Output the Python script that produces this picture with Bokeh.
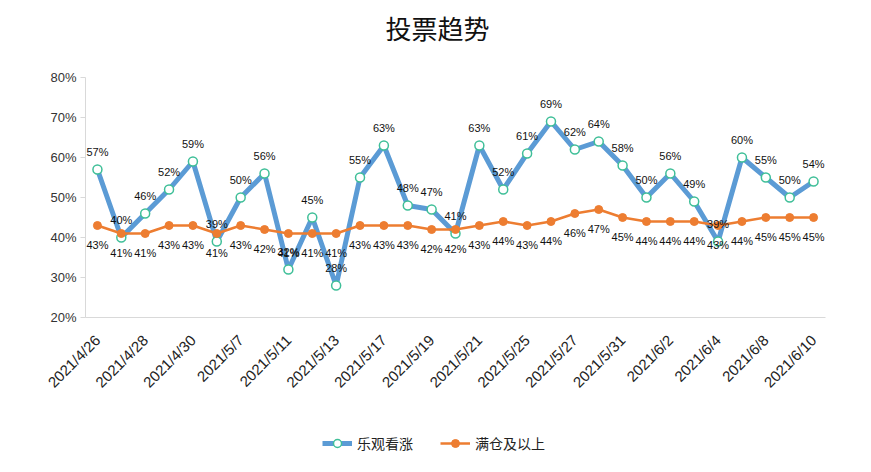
from bokeh.plotting import figure
from bokeh.models import (ColumnDataSource, Range1d, FixedTicker, NumeralTickFormatter,
                          LabelSet, Label, Legend, LegendItem)
from bokeh.core.properties import value
from bokeh.embed import file_html
from bokeh.resources import INLINE

dates = ["2021/4/26", "2021/4/27", "2021/4/28", "2021/4/29", "2021/4/30", "2021/5/6",
         "2021/5/7", "2021/5/10", "2021/5/11", "2021/5/12", "2021/5/13", "2021/5/14",
         "2021/5/17", "2021/5/18", "2021/5/19", "2021/5/20", "2021/5/21", "2021/5/24",
         "2021/5/25", "2021/5/26", "2021/5/27", "2021/5/28", "2021/5/31", "2021/6/1",
         "2021/6/2", "2021/6/3", "2021/6/4", "2021/6/7", "2021/6/8", "2021/6/9", "2021/6/10"]
bullish = [57, 40, 46, 52, 59, 39, 50, 56, 32, 45, 28, 55, 63, 48, 47, 41,
           63, 52, 61, 69, 62, 64, 58, 50, 56, 49, 39, 60, 55, 50, 54]
full_pos = [43, 41, 41, 43, 43, 41, 43, 42, 41, 41, 41, 43, 43, 43, 42, 42,
            43, 44, 43, 44, 46, 47, 45, 44, 44, 44, 43, 44, 45, 45, 45]
series_names = ["乐观看涨", "满仓及以上"]
title_text = "投票趋势"
y_ticks = [20, 30, 40, 50, 60, 70, 80]

xs = list(range(len(dates)))
src = ColumnDataSource(dict(
    x=xs,
    b=[v / 100 for v in bullish],
    f=[v / 100 for v in full_pos],
    bl=[f"{v}%" for v in bullish],
    fl=[f"{v}%" for v in full_pos],
))

# layout: the plot frame spans the whole canvas so that the title, legend and
# rotated tick labels all live inside it; the axes are pinned to the plot area.
W, H = 855, 456
LEFT_PX, RIGHT_PX = 85, 825       # canvas columns of the plot-area edges
TOP_PX, BOT_PX = 77, 317          # canvas rows of the 80% and 20% levels
x_lo, x_hi = -0.5, len(dates) - 0.5
y_lo, y_hi = y_ticks[0] / 100, y_ticks[-1] / 100
xpu = (RIGHT_PX - LEFT_PX) / (x_hi - x_lo)
ypu = (BOT_PX - TOP_PX) / (y_hi - y_lo)

p = figure(width=W, height=H, output_backend="svg", toolbar_location=None,
           x_range=Range1d(x_lo - LEFT_PX / xpu, x_hi + (W - RIGHT_PX) / xpu),
           y_range=Range1d(y_lo - (H - BOT_PX) / ypu, y_hi + TOP_PX / ypu))
p.min_border_left = 0
p.min_border_right = 0
p.min_border_top = 0
p.min_border_bottom = 0
p.outline_line_color = None
p.xgrid.visible = False
p.ygrid.visible = False
p.background_fill_color = "white"
p.border_fill_color = "white"

# y axis, pinned at the left edge of the plot area
p.yaxis.fixed_location = x_lo
p.yaxis.bounds = (y_lo, y_hi)
p.yaxis.ticker = FixedTicker(ticks=[t / 100 for t in y_ticks])
p.yaxis.formatter = NumeralTickFormatter(format="0%")
p.yaxis.axis_line_color = "#d9d9d9"
p.yaxis.major_tick_line_color = "#d9d9d9"
p.yaxis.major_tick_out = 5
p.yaxis.major_tick_in = 0
p.yaxis.minor_tick_line_color = None
p.yaxis.major_label_text_font = "Liberation Sans"
p.yaxis.major_label_text_font_size = "13px"
p.yaxis.major_label_text_color = "#333333"
p.yaxis.major_label_standoff = 4

# x axis, pinned at the 20% level
p.xaxis.fixed_location = y_lo
p.xaxis.bounds = (x_lo, x_hi)
p.xaxis.ticker = FixedTicker(ticks=xs[::2])
p.xaxis.major_label_overrides = {i: dates[i] for i in xs[::2]}
p.xaxis.major_label_orientation = 0.785398
p.xaxis.axis_line_color = "#d9d9d9"
p.xaxis.major_tick_line_color = None
p.xaxis.minor_tick_line_color = None
p.xaxis.major_tick_out = 0
p.xaxis.major_tick_in = 0
p.xaxis.major_label_standoff = 20
p.xaxis.major_label_text_font = "Liberation Sans"
p.xaxis.major_label_text_font_size = "15px"
p.xaxis.major_label_text_color = "#222222"

blue = "#5B9BD5"
orange = "#ED7D31"

l1 = p.line("x", "b", source=src, line_color=blue, line_width=5)
c1 = p.scatter("x", "b", source=src, size=9, fill_color="white",
               line_color="#3FBF98", line_width=1.5)
l2 = p.line("x", "f", source=src, line_color=orange, line_width=2.5)
c2 = p.scatter("x", "f", source=src, size=8, fill_color=orange, line_color=orange)

p.add_layout(LabelSet(x="x", y="b", text="bl", source=src, y_offset=18,
                      text_align="center", text_baseline="middle",
                      text_font=value("Liberation Sans"), text_font_size="11px",
                      text_color="#111111"))
p.add_layout(LabelSet(x="x", y="f", text="fl", source=src, y_offset=-19,
                      text_align="center", text_baseline="middle",
                      text_font=value("Liberation Sans"), text_font_size="11px",
                      text_color="#111111"))

# title (screen units are measured from the frame's bottom-left corner)
p.add_layout(Label(x=437, y=H - 27, x_units="screen", y_units="screen", text=title_text,
                   text_align="center", text_baseline="middle",
                   text_font="Noto Sans CJK SC", text_font_size="26px",
                   text_color="#111111"))

legend = Legend(items=[LegendItem(label=series_names[0], renderers=[l1, c1]),
                       LegendItem(label=series_names[1], renderers=[l2, c2])],
                orientation="horizontal", location=(322, 3),
                glyph_width=30, glyph_height=20, label_standoff=5, spacing=27,
                padding=0, margin=0, border_line_color=None,
                background_fill_alpha=0,
                label_text_font="Noto Sans CJK SC", label_text_font_size="14px",
                label_text_color="#222222")
p.add_layout(legend, "center")

open("out.html", "w").write(file_html(p, INLINE))
